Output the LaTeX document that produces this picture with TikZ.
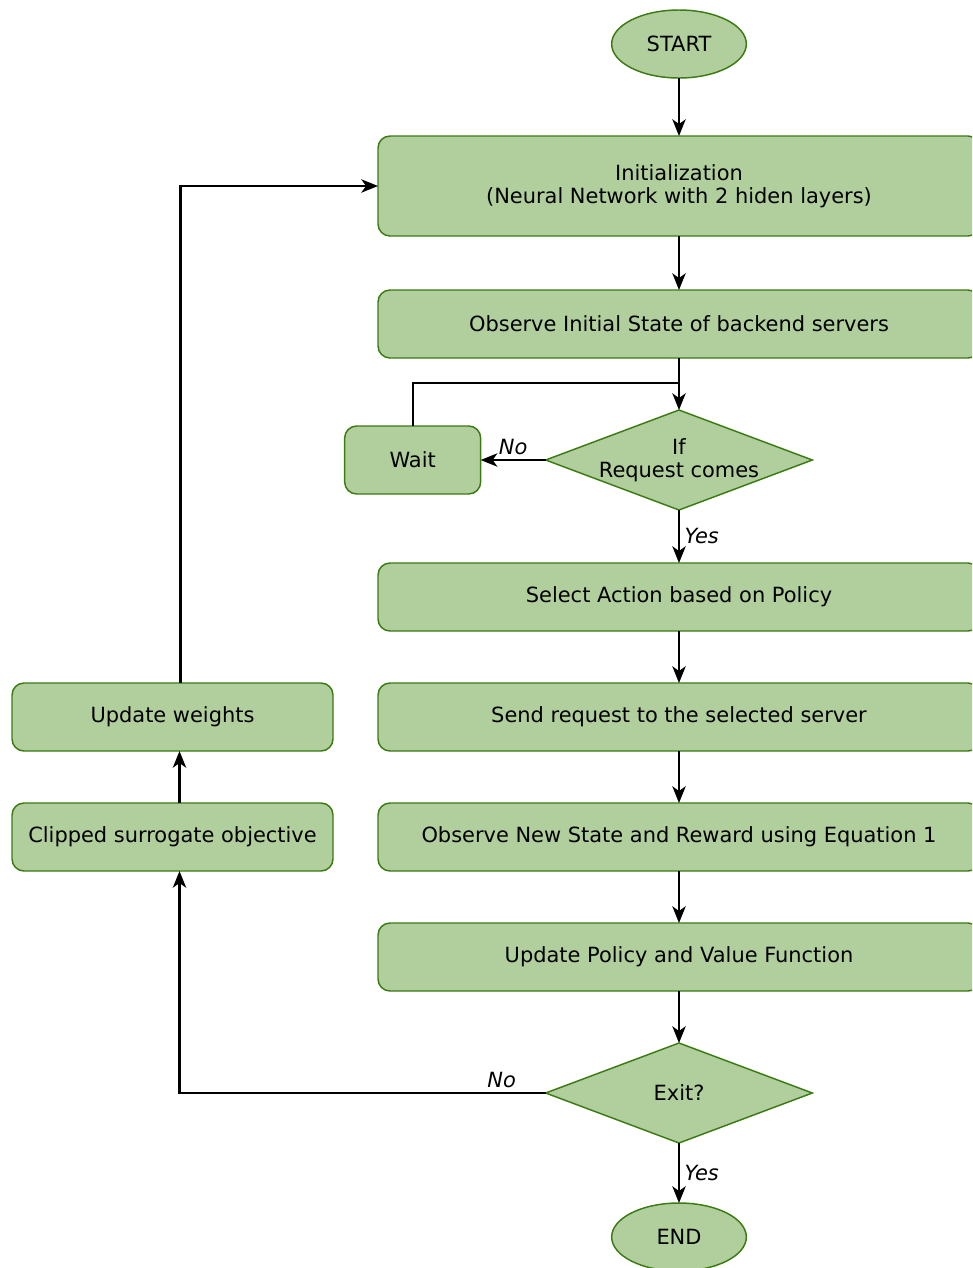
\documentclass[tikz,border=0pt]{standalone}
\usepackage{fontspec}
\setmainfont{DejaVu Sans}
\usetikzlibrary{positioning}
\usetikzlibrary{shapes.geometric}
\usetikzlibrary{arrows.meta}

\definecolor{boxfill}{RGB}{176,207,156}
\definecolor{boxline}{RGB}{60,122,20}

\tikzset{
  flow/.style={font=\fontsize{15.7}{17.3}\selectfont, fill=boxfill, draw=boxline, line width=1.1pt, outer sep=0pt},
  terminal/.style={flow, ellipse, minimum width=101pt, minimum height=51pt, inner sep=0pt},
  process/.style={flow, rectangle, rounded corners=9pt, minimum width=451.5pt, minimum height=51pt, align=center},
  sideproc/.style={process, minimum width=240.75pt},
  decision/.style={flow, diamond, aspect=2.67, minimum width=200pt, minimum height=75pt, inner sep=-1.5pt, align=center},
  line/.style={draw, line width=1.6pt, -{Stealth[length=12.5pt,width=10pt,inset=3.5pt]}},
  plain/.style={draw, line width=1.6pt},
  branch/.style={font=\fontsize{15.7}{17.3}\selectfont\itshape}
}

\begin{document}
\begin{tikzpicture}[x=0.75pt, y=-0.75pt]
    \useasboundingbox (0,0) rectangle (972,1268);
    \clip (0,0) rectangle (972,1268);

    \node[terminal] (start) at (679,44) {START};
    \node[process, minimum height=75pt, below=43.5pt of start] (init) {Initialization\\(Neural Network with 2 hiden layers)};
    \node[process, below=40.5pt of init] (obs) {Observe Initial State of backend servers};
    \node[decision, below=39pt of obs] (req) {If\\Request comes};
    \node[process, minimum width=102pt, left=48.75pt of req] (wait) {Wait};
    \node[process, below=39.75pt of req] (select) {Select Action based on Policy};
    \node[process, below=39pt of select] (send) {Send request to the selected server};
    \node[process, below=39pt of send] (obsnew) {Observe New State and Reward using Equation 1};
    \node[process, below=39pt of obsnew] (updpol) {Update Policy and Value Function};
    \node[decision, below=39pt of updpol] (exit) {Exit?};
    \node[terminal, below=45pt of exit] (end) {END};

    \node[sideproc, left=33.75pt of send] (updw) {Update weights};
    \node[sideproc, left=33.75pt of obsnew] (clip) {Clipped surrogate objective};

    % Edges
    \draw[line] (start) -- (init);
    \draw[line] (init) -- (obs);
    \draw[line] (obs) -- (req);
    \draw[plain] (wait.north) |- ([yshift=-18.75pt]obs.south);
    \draw[line] (req) -- node[branch, above] {No} (wait);
    \draw[line] (req) -- node[branch, right] {Yes} (select);

    \draw[line] (select) -- (send);
    \draw[line] (send) -- (obsnew);
    \draw[line] (obsnew) -- (updpol);
    \draw[line] (updpol) -- (exit);
    \draw[line] (exit) -- node[branch, right] {Yes} (end);

    % Loop back
    \draw[line] (exit.west) -| node[branch, above, pos=0.06] {No} ([xshift=5.25pt]clip.south);
    \draw[line] ([xshift=5.25pt]clip.north) -- ([xshift=5.25pt]updw.south);
    \draw[line] ([xshift=6pt]updw.north) |- (init.west);
\end{tikzpicture}
\end{document}
